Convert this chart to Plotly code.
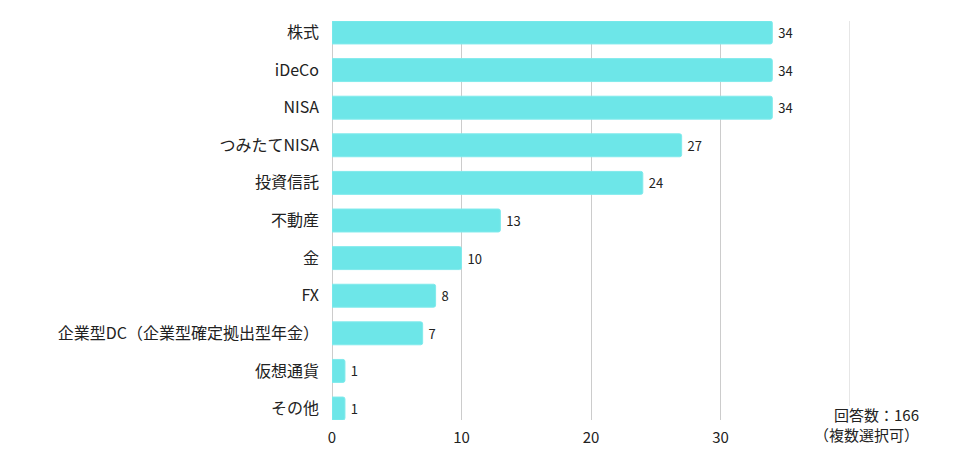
import plotly.graph_objects as go

categories = ["株式", "iDeCo", "NISA", "つみたてNISA", "投資信託", "不動産", "金", "FX",
              "企業型DC（企業型確定拠出型年金）", "仮想通貨", "その他"]
values = [34, 34, 34, 27, 24, 13, 10, 8, 7, 1, 1]
x_ticks = [0, 10, 20, 30]
note_lines = ["回答数：166", "（複数選択可）"]

FONT = "Noto Sans CJK JP"

fig = go.Figure()
fig.add_trace(go.Bar(
    y=categories,
    x=values,
    orientation="h",
    marker=dict(color="#6de6e8", line=dict(color="#80eaec", width=1)),
    width=0.61,
    text=[str(v) for v in values],
    texttemplate=" %{text}",
    textposition="outside",
    textfont=dict(family=FONT, size=13, color="#222"),
    cliponaxis=False,
))

# light gridline at 40
fig.add_shape(type="line", xref="x", yref="paper", x0=40, x1=40, y0=0.035, y1=1,
              line=dict(color="#e6e6e6", width=2), layer="below")

fig.add_annotation(text=note_lines[0], xref="paper", yref="paper", x=1.1375, y=0.014,
                   xanchor="right", yanchor="middle", showarrow=False, align="right",
                   font=dict(family=FONT, size=15, color="#222"))
fig.add_annotation(text=note_lines[1], xref="paper", yref="paper", x=1.1375, y=-0.037,
                   xanchor="right", yanchor="middle", showarrow=False, align="right",
                   font=dict(family=FONT, size=15, color="#222"))

fig.update_layout(
    width=976, height=459,
    margin=dict(l=332, r=126, t=21, b=37),
    plot_bgcolor="white", paper_bgcolor="white",
    barcornerradius=2,
    showlegend=False,
    font=dict(family=FONT, size=16, color="#222"),
    xaxis=dict(range=[0, 40], tickvals=x_ticks, showgrid=True, gridcolor="#cccccc",
               gridwidth=1, zeroline=True, zerolinecolor="#cccccc", zerolinewidth=1,
               ticklabelstandoff=7,
               tickfont=dict(family=FONT, size=15, color="#222"), ticks=""),
    yaxis=dict(categoryorder="array", categoryarray=categories[::-1], range=[-0.305, 10.305],
               ticks="", ticklabelstandoff=12, showgrid=False,
               tickfont=dict(family=FONT, size=16, color="#222")),
)

fig.write_html("out.html")
